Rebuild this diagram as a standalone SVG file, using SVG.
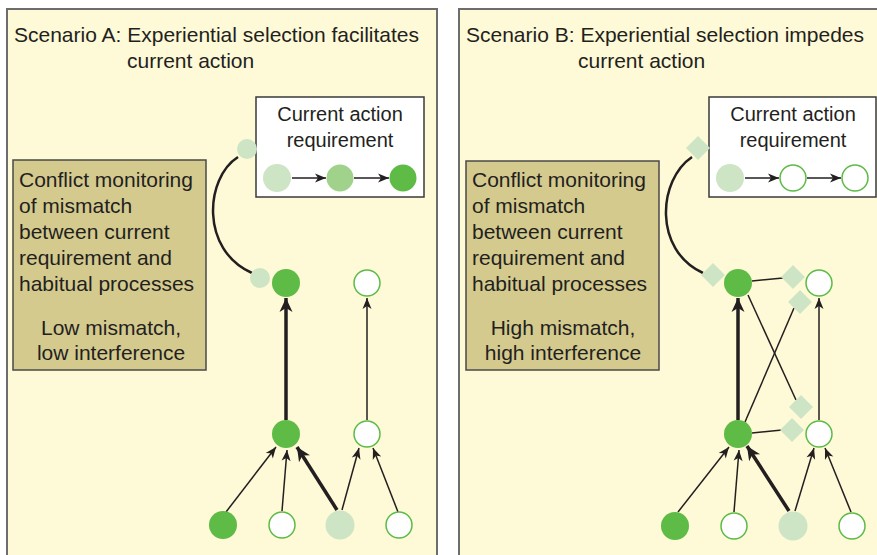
<svg xmlns="http://www.w3.org/2000/svg" width="877" height="555" viewBox="0 0 877 555">
<style>
text{font-family:"Liberation Sans",Arial,sans-serif;fill:#231f20}
.t{font-size:21px}
.b{font-size:20px;text-anchor:middle}
.c{font-size:21px}
.m{font-size:21px;text-anchor:middle}
.panel{fill:#fef9d6;stroke:#6d6d6d;stroke-width:2}
.req{fill:#fff;stroke:#3a3a3a;stroke-width:1.5}
.conf{fill:#d4ca8e;stroke:#4a4a4a;stroke-width:1.5}
.dk{fill:#5dbb46}
.md{fill:#a0d28b}
.lt{fill:#cde5c5}
.wh{fill:#fff;stroke:#5dbb46;stroke-width:1.5}
.dia{fill:#cde5c5}
.ln{stroke:#231f20;stroke-width:1.5;fill:none}
.th{stroke:#231f20;stroke-width:3.5;fill:none}
.arc{stroke:#231f20;stroke-width:2.5;fill:none}
.ah{marker-end:url(#ah)}
.ahT{marker-end:url(#ahT)}
</style>
<defs>
<marker id="ah" viewBox="-12 -6 13 12" markerWidth="13" markerHeight="12" refX="0" refY="0" orient="auto" markerUnits="userSpaceOnUse">
<path d="M0,0 L-11,-4.5 L-8,0 L-11,4.5 Z" fill="#231f20"/>
</marker>
<marker id="ahT" viewBox="-16 -8 17 16" markerWidth="17" markerHeight="16" refX="0" refY="0" orient="auto" markerUnits="userSpaceOnUse">
<path d="M0,0 L-14,-6.5 L-10,0 L-14,6.5 Z" fill="#231f20"/>
</marker>
</defs>

<g id="panelA">
<rect class="panel" x="7" y="9" width="430" height="560"/>
<text class="t" x="14" y="42">Scenario A: Experiential selection facilitates</text>
<text class="t" x="127" y="68">current action</text>
</g>
<g id="panelB">
<rect class="panel" x="459" y="9" width="430" height="560"/>
<text class="t" x="466" y="42">Scenario B: Experiential selection impedes</text>
<text class="t" x="578" y="68">current action</text>
</g>

<g id="reqA">
<rect class="req" x="256" y="97" width="168" height="100"/>
<text class="b" x="340" y="121">Current action</text>
<text class="b" x="340" y="147">requirement</text>
<circle class="lt" cx="277" cy="178" r="14"/>
<circle class="md" cx="340" cy="178" r="13.5"/>
<circle class="dk" cx="403" cy="178" r="13.5"/>
<line class="ln ah" x1="292" y1="178" x2="326" y2="178"/>
<line class="ln ah" x1="354" y1="178" x2="389" y2="178"/>
</g>
<g id="reqB">
<rect class="req" x="709" y="97" width="167" height="100"/>
<text class="b" x="793" y="121">Current action</text>
<text class="b" x="793" y="147">requirement</text>
<circle class="lt" cx="730" cy="178" r="14"/>
<circle class="wh" cx="793" cy="178" r="13"/>
<circle class="wh" cx="855" cy="178" r="13"/>
<line class="ln ah" x1="745" y1="178" x2="779" y2="178"/>
<line class="ln ah" x1="807" y1="178" x2="841" y2="178"/>
</g>

<g id="conflictA">
<rect class="conf" x="13" y="160" width="193" height="210"/>
<text class="c" x="19" y="187">Conflict monitoring</text>
<text class="c" x="19" y="213">of mismatch</text>
<text class="c" x="19" y="239">between current</text>
<text class="c" x="19" y="265">requirement and</text>
<text class="c" x="19" y="291">habitual processes</text>
<text class="m" x="111" y="335">Low mismatch,</text>
<text class="m" x="111" y="360">low interference</text>
</g>
<g id="conflictB">
<rect class="conf" x="466" y="161" width="193" height="209"/>
<text class="c" x="472" y="187">Conflict monitoring</text>
<text class="c" x="472" y="213">of mismatch</text>
<text class="c" x="472" y="239">between current</text>
<text class="c" x="472" y="265">requirement and</text>
<text class="c" x="472" y="291">habitual processes</text>
<text class="m" x="563" y="335">High mismatch,</text>
<text class="m" x="563" y="360">high interference</text>
</g>

<g id="connectors">
<path class="arc" d="M238,157 C205,178 200,250 252,273"/>
<line class="th ahT" x1="286" y1="420" x2="286" y2="298"/>
<line class="ln ah" x1="367" y1="420" x2="367" y2="298"/>
<line class="ln ah" x1="226" y1="512" x2="276" y2="447"/>
<line class="ln ah" x1="282" y1="511" x2="287" y2="450"/>
<line class="th ahT" x1="337" y1="510" x2="297" y2="447"/>
<line class="ln ah" x1="342" y1="510" x2="359" y2="448"/>
<line class="ln ah" x1="398" y1="512" x2="373" y2="448"/>

<path class="arc" d="M692,157 C658,180 653,250 703,273"/>
<line class="th ahT" x1="738" y1="420" x2="738" y2="298"/>
<line class="ln ah" x1="819" y1="420" x2="819" y2="298"/>
<line class="ln" x1="752" y1="281" x2="783" y2="278"/>
<line class="ln" x1="752" y1="433" x2="782" y2="430"/>
<line class="ln" x1="748" y1="295" x2="796" y2="400"/>
<line class="ln" x1="745" y1="422" x2="794" y2="308"/>
<line class="ln ah" x1="678" y1="512" x2="729" y2="447"/>
<line class="ln ah" x1="734" y1="512" x2="739" y2="450"/>
<line class="th ahT" x1="789" y1="511" x2="747" y2="446"/>
<line class="ln ah" x1="795" y1="511" x2="814" y2="448"/>
<line class="ln ah" x1="851" y1="512" x2="825" y2="448"/>
</g>

<g id="nodesA">
<circle id="a-req-top" class="lt" cx="247" cy="149" r="10"/>
<circle id="a-req-bot" class="lt" cx="260" cy="278" r="10"/>
<circle id="a-top1" class="dk" cx="286" cy="283" r="14"/>
<circle id="a-top2" class="wh" cx="367" cy="283" r="13"/>
<circle id="a-mid1" class="dk" cx="286" cy="434" r="14"/>
<circle id="a-mid2" class="wh" cx="367" cy="434" r="13"/>
<circle id="a-b1" class="dk" cx="223" cy="525" r="14"/>
<circle id="a-b2" class="wh" cx="282" cy="525" r="13"/>
<circle id="a-b3" class="lt" cx="340" cy="525" r="14.5"/>
<circle id="a-b4" class="wh" cx="399" cy="525" r="13"/>
</g>
<g id="nodesB">
<path id="b-d1" class="dia" d="M698,136 L710,148 L698,160 L686,148 Z"/>
<path id="b-d2" class="dia" d="M713,263 L725,275 L713,287 L701,275 Z"/>
<path id="b-d3" class="dia" d="M793,265 L805,277 L793,289 L781,277 Z"/>
<path id="b-d4" class="dia" d="M800,290 L812,302 L800,314 L788,302 Z"/>
<path id="b-d5" class="dia" d="M801,395 L813,407 L801,419 L789,407 Z"/>
<path id="b-d6" class="dia" d="M792,418 L804,430 L792,442 L780,430 Z"/>
<circle id="b-top1" class="dk" cx="738" cy="283" r="14"/>
<circle id="b-top2" class="wh" cx="819" cy="283" r="13"/>
<circle id="b-mid1" class="dk" cx="738" cy="434" r="14"/>
<circle id="b-mid2" class="wh" cx="819" cy="434" r="13"/>
<circle id="b-b1" class="dk" cx="675" cy="526" r="14"/>
<circle id="b-b2" class="wh" cx="734" cy="526" r="13"/>
<circle id="b-b3" class="lt" cx="793" cy="526" r="14.5"/>
<circle id="b-b4" class="wh" cx="852" cy="526" r="13"/>
</g>
</svg>
